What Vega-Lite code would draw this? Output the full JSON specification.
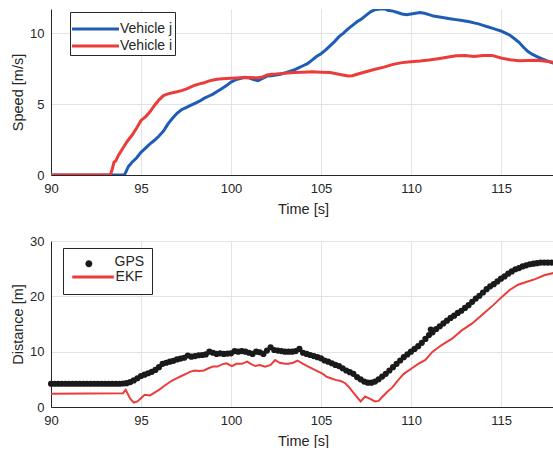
{
  "$schema": "https://vega.github.io/schema/vega-lite/v6.json",
  "padding": {"left": 10, "top": 9, "right": 0, "bottom": 0},
  "background": "white",
  "spacing": 66,
  "bounds": "flush",
  "resolve": {
    "scale": {"color": "independent", "fill": "independent", "stroke": "independent"},
    "legend": {"color": "independent", "fill": "independent", "stroke": "independent"}
  },
  "config": {
    "view": {"stroke": null},
    "font": "Liberation Sans",
    "axis": {
      "labelFont": "Liberation Sans",
      "titleFont": "Liberation Sans",
      "labelFontSize": 13,
      "titleFontSize": 14.5,
      "titleFontWeight": "normal",
      "labelColor": "#262626",
      "titleColor": "#262626",
      "domainColor": "#262626",
      "tickColor": "#262626",
      "gridColor": "#e3e3e3",
      "gridWidth": 1,
      "tickSize": 0,
      "labelPadding": 7,
      "labelFlush": false,
      "titlePadding": 4
    },
    "axisX": {"titlePadding": 7}
  },
  "datasets": {
    "speed": [
      {"t": 90, "v": 0, "s": "Vehicle j"}, {"t": 94.0, "v": 0, "s": "Vehicle j"}, {"t": 94.1, "v": 0.05, "s": "Vehicle j"}, {"t": 94.3, "v": 0.6, "s": "Vehicle j"}, {"t": 94.5, "v": 0.9, "s": "Vehicle j"}, {"t": 94.75, "v": 1.2, "s": "Vehicle j"}, {"t": 95.0, "v": 1.6, "s": "Vehicle j"}, {"t": 95.25, "v": 1.9, "s": "Vehicle j"}, {"t": 95.5, "v": 2.2, "s": "Vehicle j"}, {"t": 95.75, "v": 2.45, "s": "Vehicle j"}, {"t": 96.0, "v": 2.75, "s": "Vehicle j"}, {"t": 96.25, "v": 3.1, "s": "Vehicle j"}, {"t": 96.5, "v": 3.6, "s": "Vehicle j"}, {"t": 96.75, "v": 4.0, "s": "Vehicle j"}, {"t": 97.0, "v": 4.35, "s": "Vehicle j"}, {"t": 97.25, "v": 4.6, "s": "Vehicle j"}, {"t": 97.5, "v": 4.75, "s": "Vehicle j"}, {"t": 97.75, "v": 4.9, "s": "Vehicle j"}, {"t": 98.0, "v": 5.05, "s": "Vehicle j"}, {"t": 98.25, "v": 5.2, "s": "Vehicle j"}, {"t": 98.5, "v": 5.4, "s": "Vehicle j"}, {"t": 98.75, "v": 5.55, "s": "Vehicle j"}, {"t": 99.0, "v": 5.7, "s": "Vehicle j"}, {"t": 99.25, "v": 5.9, "s": "Vehicle j"}, {"t": 99.5, "v": 6.1, "s": "Vehicle j"}, {"t": 99.75, "v": 6.3, "s": "Vehicle j"}, {"t": 100.0, "v": 6.55, "s": "Vehicle j"}, {"t": 100.25, "v": 6.7, "s": "Vehicle j"}, {"t": 100.5, "v": 6.8, "s": "Vehicle j"}, {"t": 100.75, "v": 6.88, "s": "Vehicle j"}, {"t": 101.0, "v": 6.85, "s": "Vehicle j"}, {"t": 101.25, "v": 6.72, "s": "Vehicle j"}, {"t": 101.5, "v": 6.65, "s": "Vehicle j"}, {"t": 101.75, "v": 6.8, "s": "Vehicle j"}, {"t": 102.0, "v": 6.97, "s": "Vehicle j"}, {"t": 102.25, "v": 7.0, "s": "Vehicle j"}, {"t": 102.5, "v": 7.05, "s": "Vehicle j"}, {"t": 102.75, "v": 7.1, "s": "Vehicle j"}, {"t": 103.0, "v": 7.2, "s": "Vehicle j"}, {"t": 103.25, "v": 7.3, "s": "Vehicle j"}, {"t": 103.5, "v": 7.4, "s": "Vehicle j"}, {"t": 103.75, "v": 7.55, "s": "Vehicle j"}, {"t": 104.0, "v": 7.7, "s": "Vehicle j"}, {"t": 104.25, "v": 7.85, "s": "Vehicle j"}, {"t": 104.5, "v": 8.1, "s": "Vehicle j"}, {"t": 104.75, "v": 8.35, "s": "Vehicle j"}, {"t": 105.0, "v": 8.55, "s": "Vehicle j"}, {"t": 105.25, "v": 8.8, "s": "Vehicle j"}, {"t": 105.5, "v": 9.1, "s": "Vehicle j"}, {"t": 105.75, "v": 9.4, "s": "Vehicle j"}, {"t": 106.0, "v": 9.75, "s": "Vehicle j"}, {"t": 106.25, "v": 10.0, "s": "Vehicle j"}, {"t": 106.5, "v": 10.3, "s": "Vehicle j"}, {"t": 106.75, "v": 10.55, "s": "Vehicle j"}, {"t": 107.0, "v": 10.8, "s": "Vehicle j"}, {"t": 107.25, "v": 11.0, "s": "Vehicle j"}, {"t": 107.5, "v": 11.25, "s": "Vehicle j"}, {"t": 107.75, "v": 11.5, "s": "Vehicle j"}, {"t": 108.0, "v": 11.65, "s": "Vehicle j"}, {"t": 108.25, "v": 11.7, "s": "Vehicle j"}, {"t": 108.5, "v": 11.72, "s": "Vehicle j"}, {"t": 108.75, "v": 11.6, "s": "Vehicle j"}, {"t": 109.0, "v": 11.55, "s": "Vehicle j"}, {"t": 109.25, "v": 11.45, "s": "Vehicle j"}, {"t": 109.5, "v": 11.35, "s": "Vehicle j"}, {"t": 109.75, "v": 11.3, "s": "Vehicle j"}, {"t": 110.0, "v": 11.35, "s": "Vehicle j"}, {"t": 110.25, "v": 11.4, "s": "Vehicle j"}, {"t": 110.5, "v": 11.45, "s": "Vehicle j"}, {"t": 110.75, "v": 11.4, "s": "Vehicle j"}, {"t": 111.0, "v": 11.3, "s": "Vehicle j"}, {"t": 111.25, "v": 11.2, "s": "Vehicle j"}, {"t": 111.5, "v": 11.15, "s": "Vehicle j"}, {"t": 111.75, "v": 11.1, "s": "Vehicle j"}, {"t": 112.0, "v": 11.05, "s": "Vehicle j"}, {"t": 112.25, "v": 11.0, "s": "Vehicle j"}, {"t": 112.5, "v": 10.95, "s": "Vehicle j"}, {"t": 112.75, "v": 10.9, "s": "Vehicle j"}, {"t": 113.0, "v": 10.85, "s": "Vehicle j"}, {"t": 113.25, "v": 10.8, "s": "Vehicle j"}, {"t": 113.5, "v": 10.72, "s": "Vehicle j"}, {"t": 113.75, "v": 10.65, "s": "Vehicle j"}, {"t": 114.0, "v": 10.55, "s": "Vehicle j"}, {"t": 114.25, "v": 10.45, "s": "Vehicle j"}, {"t": 114.5, "v": 10.35, "s": "Vehicle j"}, {"t": 114.75, "v": 10.25, "s": "Vehicle j"}, {"t": 115.0, "v": 10.15, "s": "Vehicle j"}, {"t": 115.25, "v": 10.0, "s": "Vehicle j"}, {"t": 115.5, "v": 9.85, "s": "Vehicle j"}, {"t": 115.75, "v": 9.6, "s": "Vehicle j"}, {"t": 116.0, "v": 9.35, "s": "Vehicle j"}, {"t": 116.25, "v": 9.0, "s": "Vehicle j"}, {"t": 116.5, "v": 8.7, "s": "Vehicle j"}, {"t": 116.75, "v": 8.5, "s": "Vehicle j"}, {"t": 117.0, "v": 8.35, "s": "Vehicle j"}, {"t": 117.25, "v": 8.2, "s": "Vehicle j"}, {"t": 117.5, "v": 8.08, "s": "Vehicle j"}, {"t": 117.75, "v": 7.95, "s": "Vehicle j"}, {"t": 118.0, "v": 7.85, "s": "Vehicle j"},
      {"t": 90, "v": 0, "s": "Vehicle i"}, {"t": 93.3, "v": 0, "s": "Vehicle i"}, {"t": 93.4, "v": 0.4, "s": "Vehicle i"}, {"t": 93.5, "v": 0.9, "s": "Vehicle i"}, {"t": 93.6, "v": 1.0, "s": "Vehicle i"}, {"t": 93.75, "v": 1.4, "s": "Vehicle i"}, {"t": 94.0, "v": 1.9, "s": "Vehicle i"}, {"t": 94.25, "v": 2.4, "s": "Vehicle i"}, {"t": 94.5, "v": 2.8, "s": "Vehicle i"}, {"t": 94.75, "v": 3.3, "s": "Vehicle i"}, {"t": 95.0, "v": 3.85, "s": "Vehicle i"}, {"t": 95.25, "v": 4.1, "s": "Vehicle i"}, {"t": 95.5, "v": 4.45, "s": "Vehicle i"}, {"t": 95.75, "v": 4.9, "s": "Vehicle i"}, {"t": 96.0, "v": 5.3, "s": "Vehicle i"}, {"t": 96.25, "v": 5.6, "s": "Vehicle i"}, {"t": 96.5, "v": 5.72, "s": "Vehicle i"}, {"t": 96.75, "v": 5.8, "s": "Vehicle i"}, {"t": 97.0, "v": 5.87, "s": "Vehicle i"}, {"t": 97.25, "v": 5.95, "s": "Vehicle i"}, {"t": 97.5, "v": 6.05, "s": "Vehicle i"}, {"t": 97.75, "v": 6.2, "s": "Vehicle i"}, {"t": 98.0, "v": 6.33, "s": "Vehicle i"}, {"t": 98.25, "v": 6.42, "s": "Vehicle i"}, {"t": 98.5, "v": 6.5, "s": "Vehicle i"}, {"t": 98.75, "v": 6.62, "s": "Vehicle i"}, {"t": 99.0, "v": 6.7, "s": "Vehicle i"}, {"t": 99.25, "v": 6.75, "s": "Vehicle i"}, {"t": 99.5, "v": 6.78, "s": "Vehicle i"}, {"t": 99.75, "v": 6.8, "s": "Vehicle i"}, {"t": 100.0, "v": 6.82, "s": "Vehicle i"}, {"t": 100.5, "v": 6.85, "s": "Vehicle i"}, {"t": 101.0, "v": 6.87, "s": "Vehicle i"}, {"t": 101.5, "v": 6.85, "s": "Vehicle i"}, {"t": 101.75, "v": 6.9, "s": "Vehicle i"}, {"t": 102.0, "v": 7.05, "s": "Vehicle i"}, {"t": 102.25, "v": 7.1, "s": "Vehicle i"}, {"t": 102.5, "v": 7.12, "s": "Vehicle i"}, {"t": 103.0, "v": 7.18, "s": "Vehicle i"}, {"t": 103.5, "v": 7.22, "s": "Vehicle i"}, {"t": 104.0, "v": 7.25, "s": "Vehicle i"}, {"t": 104.5, "v": 7.27, "s": "Vehicle i"}, {"t": 105.0, "v": 7.25, "s": "Vehicle i"}, {"t": 105.5, "v": 7.22, "s": "Vehicle i"}, {"t": 106.0, "v": 7.1, "s": "Vehicle i"}, {"t": 106.5, "v": 6.98, "s": "Vehicle i"}, {"t": 106.75, "v": 7.0, "s": "Vehicle i"}, {"t": 107.0, "v": 7.1, "s": "Vehicle i"}, {"t": 107.5, "v": 7.28, "s": "Vehicle i"}, {"t": 108.0, "v": 7.45, "s": "Vehicle i"}, {"t": 108.5, "v": 7.6, "s": "Vehicle i"}, {"t": 109.0, "v": 7.8, "s": "Vehicle i"}, {"t": 109.5, "v": 7.92, "s": "Vehicle i"}, {"t": 110.0, "v": 7.98, "s": "Vehicle i"}, {"t": 110.5, "v": 8.03, "s": "Vehicle i"}, {"t": 111.0, "v": 8.1, "s": "Vehicle i"}, {"t": 111.5, "v": 8.2, "s": "Vehicle i"}, {"t": 112.0, "v": 8.3, "s": "Vehicle i"}, {"t": 112.5, "v": 8.4, "s": "Vehicle i"}, {"t": 113.0, "v": 8.42, "s": "Vehicle i"}, {"t": 113.5, "v": 8.35, "s": "Vehicle i"}, {"t": 114.0, "v": 8.42, "s": "Vehicle i"}, {"t": 114.5, "v": 8.43, "s": "Vehicle i"}, {"t": 115.0, "v": 8.25, "s": "Vehicle i"}, {"t": 115.5, "v": 8.12, "s": "Vehicle i"}, {"t": 116.0, "v": 8.05, "s": "Vehicle i"}, {"t": 116.5, "v": 8.07, "s": "Vehicle i"}, {"t": 117.0, "v": 8.08, "s": "Vehicle i"}, {"t": 117.5, "v": 8.02, "s": "Vehicle i"}, {"t": 118.0, "v": 7.92, "s": "Vehicle i"}
    ],
    "gps": [
      {"t": 90.0, "d": 4.2}, {"t": 90.2, "d": 4.2}, {"t": 90.4, "d": 4.2}, {"t": 90.6, "d": 4.2}, {"t": 90.8, "d": 4.2}, {"t": 91.0, "d": 4.2}, {"t": 91.2, "d": 4.2}, {"t": 91.4, "d": 4.2}, {"t": 91.6, "d": 4.2}, {"t": 91.8, "d": 4.2}, {"t": 92.0, "d": 4.2}, {"t": 92.2, "d": 4.2}, {"t": 92.4, "d": 4.2}, {"t": 92.6, "d": 4.2}, {"t": 92.8, "d": 4.2}, {"t": 93.0, "d": 4.2}, {"t": 93.2, "d": 4.2}, {"t": 93.4, "d": 4.2}, {"t": 93.6, "d": 4.2}, {"t": 93.8, "d": 4.2},
      {"t": 94.0, "d": 4.25}, {"t": 94.2, "d": 4.3}, {"t": 94.4, "d": 4.5}, {"t": 94.6, "d": 4.8}, {"t": 94.8, "d": 5.2}, {"t": 95.0, "d": 5.6}, {"t": 95.2, "d": 5.85}, {"t": 95.4, "d": 6.1}, {"t": 95.6, "d": 6.35}, {"t": 95.8, "d": 6.7}, {"t": 96.0, "d": 7.2}, {"t": 96.2, "d": 7.8}, {"t": 96.4, "d": 8.0}, {"t": 96.6, "d": 8.2}, {"t": 96.8, "d": 8.35}, {"t": 97.0, "d": 8.6}, {"t": 97.2, "d": 8.75}, {"t": 97.4, "d": 8.9}, {"t": 97.6, "d": 9.3}, {"t": 97.8, "d": 9.1}, {"t": 98.0, "d": 9.2}, {"t": 98.2, "d": 9.35}, {"t": 98.4, "d": 9.4}, {"t": 98.6, "d": 9.5}, {"t": 98.8, "d": 10.0}, {"t": 99.0, "d": 9.8}, {"t": 99.2, "d": 9.6}, {"t": 99.4, "d": 9.7}, {"t": 99.6, "d": 9.6}, {"t": 99.8, "d": 9.65},
      {"t": 100.0, "d": 9.7}, {"t": 100.2, "d": 10.1}, {"t": 100.4, "d": 10.0}, {"t": 100.6, "d": 10.1}, {"t": 100.8, "d": 10.0}, {"t": 101.0, "d": 9.8}, {"t": 101.2, "d": 9.6}, {"t": 101.4, "d": 10.0}, {"t": 101.6, "d": 9.9}, {"t": 101.8, "d": 9.6}, {"t": 102.0, "d": 10.2}, {"t": 102.2, "d": 10.8}, {"t": 102.4, "d": 10.3}, {"t": 102.6, "d": 10.2}, {"t": 102.8, "d": 10.1}, {"t": 103.0, "d": 10.0}, {"t": 103.2, "d": 10.0}, {"t": 103.4, "d": 10.0}, {"t": 103.6, "d": 10.1}, {"t": 103.8, "d": 10.5}, {"t": 104.0, "d": 9.8}, {"t": 104.2, "d": 9.6}, {"t": 104.4, "d": 9.4}, {"t": 104.6, "d": 9.2}, {"t": 104.8, "d": 9.0}, {"t": 105.0, "d": 8.8}, {"t": 105.2, "d": 8.4}, {"t": 105.4, "d": 8.2}, {"t": 105.6, "d": 7.9}, {"t": 105.8, "d": 7.6}, {"t": 106.0, "d": 7.4}, {"t": 106.2, "d": 7.0}, {"t": 106.4, "d": 6.6}, {"t": 106.6, "d": 6.3}, {"t": 106.8, "d": 6.0}, {"t": 107.0, "d": 5.4}, {"t": 107.2, "d": 5.0}, {"t": 107.4, "d": 4.6}, {"t": 107.6, "d": 4.4}, {"t": 107.8, "d": 4.4},
      {"t": 108.0, "d": 4.6}, {"t": 108.2, "d": 5.0}, {"t": 108.4, "d": 5.5}, {"t": 108.6, "d": 6.0}, {"t": 108.8, "d": 6.6}, {"t": 109.0, "d": 7.2}, {"t": 109.2, "d": 7.8}, {"t": 109.4, "d": 8.4}, {"t": 109.6, "d": 9.0}, {"t": 109.8, "d": 9.5}, {"t": 110.0, "d": 10.0}, {"t": 110.2, "d": 10.5}, {"t": 110.4, "d": 11.0}, {"t": 110.6, "d": 11.6}, {"t": 110.8, "d": 12.3}, {"t": 111.0, "d": 13.0}, {"t": 111.1, "d": 14.0}, {"t": 111.2, "d": 13.5}, {"t": 111.4, "d": 14.1}, {"t": 111.6, "d": 14.6}, {"t": 111.8, "d": 15.1}, {"t": 112.0, "d": 15.6}, {"t": 112.2, "d": 16.1}, {"t": 112.4, "d": 16.5}, {"t": 112.6, "d": 17.0}, {"t": 112.8, "d": 17.4}, {"t": 113.0, "d": 17.9}, {"t": 113.2, "d": 18.4}, {"t": 113.4, "d": 19.0}, {"t": 113.6, "d": 19.6}, {"t": 113.8, "d": 20.1}, {"t": 114.0, "d": 20.7}, {"t": 114.2, "d": 21.3}, {"t": 114.4, "d": 21.8}, {"t": 114.6, "d": 22.2}, {"t": 114.8, "d": 22.7}, {"t": 115.0, "d": 23.2}, {"t": 115.2, "d": 23.6}, {"t": 115.4, "d": 24.1}, {"t": 115.6, "d": 24.5}, {"t": 115.8, "d": 24.9}, {"t": 116.0, "d": 25.1}, {"t": 116.2, "d": 25.4}, {"t": 116.4, "d": 25.6}, {"t": 116.6, "d": 25.8}, {"t": 116.8, "d": 25.9}, {"t": 117.0, "d": 26.0}, {"t": 117.2, "d": 26.1}, {"t": 117.4, "d": 26.1}, {"t": 117.6, "d": 26.1}, {"t": 117.8, "d": 26.1}, {"t": 118.0, "d": 26.0}
    ],
    "ekf": [
      {"t": 90.0, "d": 2.4}, {"t": 94.0, "d": 2.5}, {"t": 94.15, "d": 3.1}, {"t": 94.4, "d": 1.5}, {"t": 94.6, "d": 0.8}, {"t": 94.8, "d": 1.0}, {"t": 95.0, "d": 1.6}, {"t": 95.2, "d": 2.2}, {"t": 95.5, "d": 2.1}, {"t": 95.75, "d": 2.6}, {"t": 96.0, "d": 3.1}, {"t": 96.25, "d": 3.7}, {"t": 96.5, "d": 4.3}, {"t": 96.75, "d": 4.8}, {"t": 97.0, "d": 5.2}, {"t": 97.25, "d": 5.6}, {"t": 97.5, "d": 6.0}, {"t": 97.75, "d": 6.4}, {"t": 98.0, "d": 6.6}, {"t": 98.25, "d": 6.5}, {"t": 98.5, "d": 6.6}, {"t": 98.75, "d": 7.0}, {"t": 99.0, "d": 7.3}, {"t": 99.25, "d": 7.3}, {"t": 99.5, "d": 7.7}, {"t": 99.75, "d": 7.9}, {"t": 100.05, "d": 7.4}, {"t": 100.3, "d": 7.8}, {"t": 100.6, "d": 7.8}, {"t": 100.9, "d": 8.2}, {"t": 101.1, "d": 7.8}, {"t": 101.35, "d": 7.4}, {"t": 101.6, "d": 7.6}, {"t": 101.9, "d": 7.3}, {"t": 102.2, "d": 7.6}, {"t": 102.45, "d": 8.5}, {"t": 102.7, "d": 8.0}, {"t": 103.0, "d": 7.8}, {"t": 103.2, "d": 7.8}, {"t": 103.45, "d": 8.0}, {"t": 103.7, "d": 8.4}, {"t": 104.0, "d": 7.8}, {"t": 104.3, "d": 7.3}, {"t": 104.6, "d": 6.8}, {"t": 105.05, "d": 6.1}, {"t": 105.3, "d": 5.5}, {"t": 105.55, "d": 5.2}, {"t": 105.8, "d": 4.9}, {"t": 106.1, "d": 4.7}, {"t": 106.35, "d": 4.3}, {"t": 106.6, "d": 3.4}, {"t": 106.9, "d": 2.2}, {"t": 107.2, "d": 1.0}, {"t": 107.45, "d": 1.9}, {"t": 107.7, "d": 1.5}, {"t": 108.0, "d": 1.0}, {"t": 108.2, "d": 1.1}, {"t": 108.4, "d": 1.8}, {"t": 108.7, "d": 2.8}, {"t": 108.95, "d": 3.5}, {"t": 109.3, "d": 4.9}, {"t": 109.6, "d": 6.0}, {"t": 110.05, "d": 7.0}, {"t": 110.4, "d": 7.8}, {"t": 110.8, "d": 8.5}, {"t": 111.2, "d": 10.0}, {"t": 111.7, "d": 11.2}, {"t": 112.3, "d": 12.4}, {"t": 112.8, "d": 13.8}, {"t": 113.4, "d": 15.1}, {"t": 114.1, "d": 17.1}, {"t": 114.6, "d": 18.5}, {"t": 115.05, "d": 19.9}, {"t": 115.5, "d": 21.2}, {"t": 115.95, "d": 22.1}, {"t": 116.4, "d": 22.6}, {"t": 116.9, "d": 23.1}, {"t": 117.4, "d": 23.8}, {"t": 117.9, "d": 24.2}, {"t": 118.0, "d": 24.1}
    ]
  },
  "vconcat": [
    {
      "width": 504,
      "height": 166,
      "data": {"name": "speed"},
      "mark": {"type": "line", "strokeWidth": 3, "clip": true},
      "encoding": {
        "x": {"field": "t", "type": "quantitative", "title": "Time [s]",
              "scale": {"domain": [90, 118], "nice": false},
              "axis": {"values": [90, 95, 100, 105, 110, 115]}},
        "y": {"field": "v", "type": "quantitative", "title": "Speed [m/s]",
              "scale": {"domain": [0, 11.7], "nice": false},
              "axis": {"values": [0, 5, 10]}},
        "color": {"field": "s", "type": "nominal",
                  "scale": {"domain": ["Vehicle j", "Vehicle i"], "range": ["#1f5db5", "#ea3d3a"]},
                  "legend": {"orient": "none", "legendX": 19, "legendY": 3, "title": " ",
                             "titleFontSize": 5, "titlePadding": 0,
                             "symbolType": "M-1.18,0H4.35", "symbolSize": 289, "symbolStrokeWidth": 3,
                             "labelFontSize": 14, "labelFont": "Liberation Sans", "labelColor": "#262626",
                             "labelOffset": 28, "padding": 2, "rowPadding": -1,
                             "strokeColor": "#262626", "fillColor": "white"}}
      }
    },
    {
      "width": 504,
      "height": 166,
      "layer": [
        {
          "data": {"name": "gps"},
          "transform": [{"calculate": "'GPS'", "as": "s"}],
          "mark": {"type": "point", "filled": true, "size": 38, "opacity": 1},
          "encoding": {
            "x": {"field": "t", "type": "quantitative", "title": "Time [s]",
                  "scale": {"domain": [90, 118], "nice": false},
                  "axis": {"values": [90, 95, 100, 105, 110, 115]}},
            "y": {"field": "d", "type": "quantitative", "title": "Distance [m]",
                  "scale": {"domain": [0, 30], "nice": false},
                  "axis": {"values": [0, 10, 20, 30]}},
            "fill": {"field": "s", "type": "nominal",
                     "scale": {"domain": ["GPS", "EKF"], "range": ["#1a1a1a", "transparent"]},
                     "legend": {"orient": "none", "legendX": 12, "legendY": 7, "title": null,
                                "labelExpr": "datum.value === 'GPS' ? 'GPS' : '               '",
                                "labelFontSize": 14, "labelFont": "Liberation Sans", "labelColor": "#262626",
                                "symbolType": "M2.475,0.27A0.565,0.565 0 1,1 1.345,0.27A0.565,0.565 0 1,1 2.475,0.27Z",
                                "symbolSize": 154, "symbolStrokeWidth": 0,
                                "labelOffset": 30.6, "padding": 7, "rowPadding": 4,
                                "strokeColor": "#262626", "fillColor": "white"}}
          }
        },
        {
          "data": {"name": "ekf"},
          "transform": [{"calculate": "'EKF'", "as": "s"}],
          "mark": {"type": "line", "strokeWidth": 2},
          "encoding": {
            "x": {"field": "t", "type": "quantitative"},
            "y": {"field": "d", "type": "quantitative"},
            "stroke": {"field": "s", "type": "nominal",
                       "scale": {"domain": ["EKF"], "range": ["#ea3d3a"]},
                       "legend": {"orient": "none", "legendX": 12, "legendY": 28, "title": null,
                                  "labelFontSize": 14, "labelFont": "Liberation Sans", "labelColor": "#262626",
                                  "symbolType": "M0.2,0H6.9", "symbolSize": 154, "symbolStrokeWidth": 3,
                                  "labelOffset": 36.6, "padding": 0}}
          }
        }
      ]
    }
  ]
}
